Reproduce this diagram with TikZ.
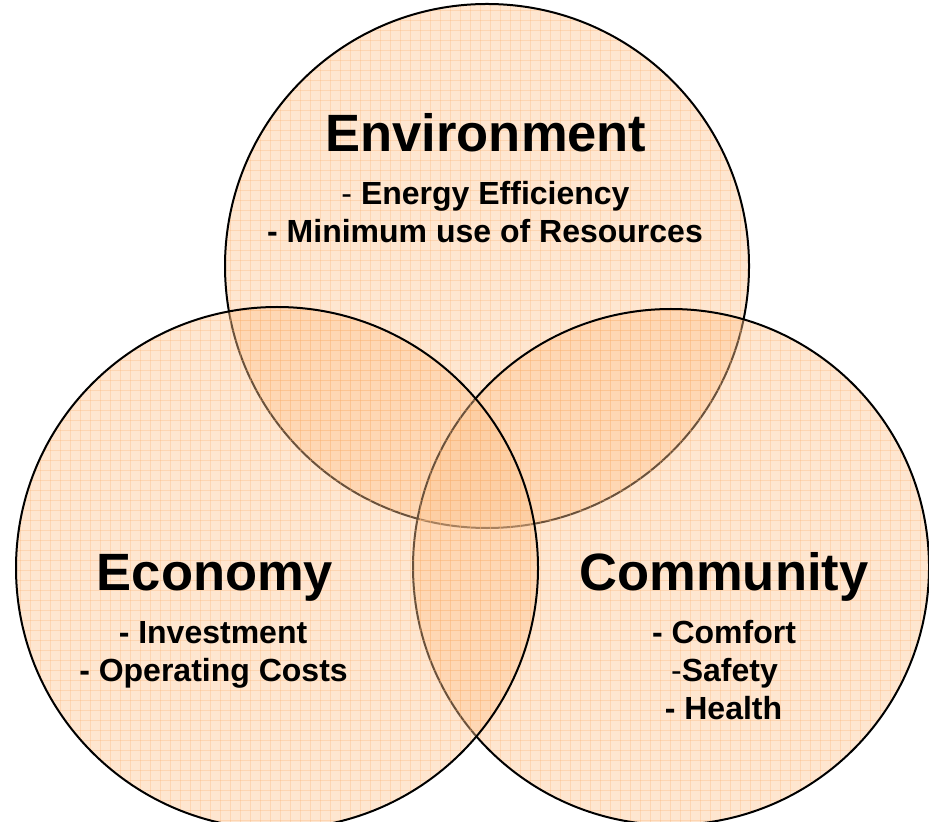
\documentclass[tikz,border=0pt]{standalone}
\usepackage{fontspec}
\setmainfont{Liberation Sans}
\usetikzlibrary{positioning}

\definecolor{peach}{RGB}{253,195,142}
\definecolor{peachgrid}{RGB}{250,175,110}

\begin{document}
\begin{tikzpicture}[x=0.5pt,y=-0.5pt,
    title/.style={font=\fontsize{26.25}{30}\selectfont\bfseries,anchor=base},
    item/.style={font=\fontsize{16}{19}\selectfont\bfseries,anchor=base},
    gridline/.style={peachgrid,opacity=0.3,line width=0.35pt}]

\useasboundingbox (0,0) rectangle (929,822);

% Three sets: environment, community, economy (drawn in that order)
\foreach \cx/\cy/\r in {487/266/262, 671/567/258, 277/568/261}
{
  \begin{scope}
    \clip (\cx,\cy) circle (\r);
    \fill[peach,opacity=0.42] (\cx,\cy) circle (\r);
    % squared paper texture
    \foreach \g in {0,10,...,930}
      \draw[gridline] (\g,0) -- (\g,830);
    \foreach \g in {0,10,...,830}
      \draw[gridline] (0,\g) -- (930,\g);
  \end{scope}
  \draw[line width=1pt] (\cx,\cy) circle (\r);
}

% Environment
\node[title] (env) at (486,152) {Environment};
\node[item] (energy) at (485.5,205) {{\mdseries -} Energy Efficiency};
\node[item] (resources) at (485,243) {- Minimum use of Resources};

% Economy
\node[title] (eco) at (215,590) {Economy};
\node[item] (invest) at (213,643) {- Investment};
\node[item] (costs) at (213.5,681) {- Operating Costs};

% Community
\node[title] (com) at (724,590) {Community};
\node[item] (comfort) at (724,643) {- Comfort};
\node[item] (safety) at (724.5,681) {{\mdseries -}Safety};
\node[item] (health) at (723.5,719) {- Health};

\end{tikzpicture}
\end{document}
